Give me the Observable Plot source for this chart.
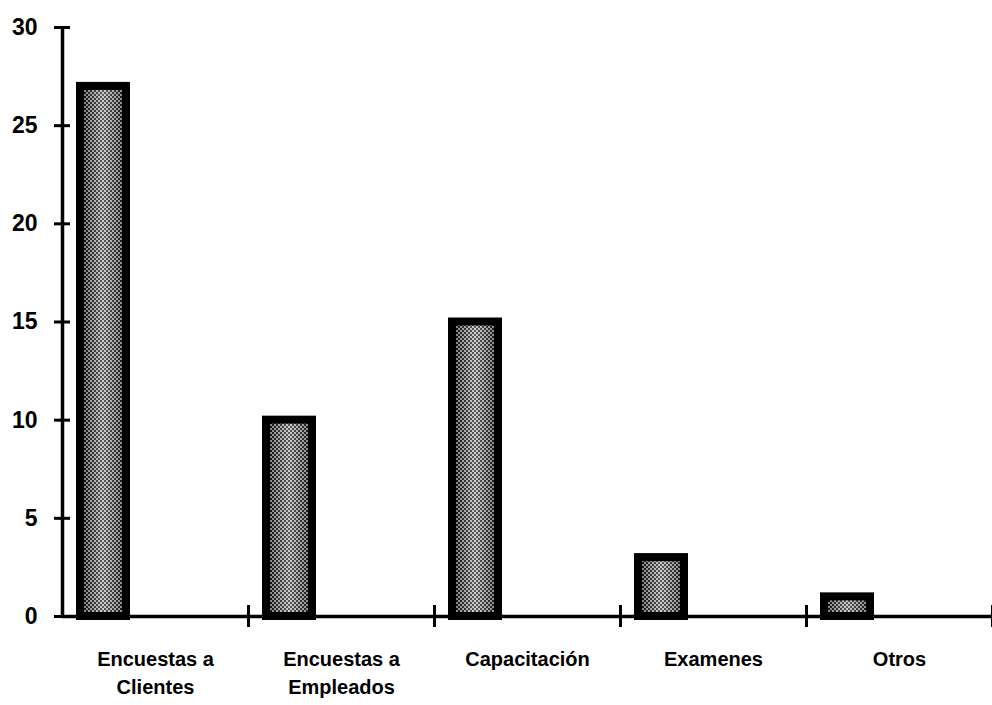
<!DOCTYPE html>
<html>
<head>
<meta charset="utf-8">
<script src="https://cdn.jsdelivr.net/npm/d3@7"></script>
<script src="https://cdn.jsdelivr.net/npm/@observablehq/plot@0.6"></script>
<style>
  html, body { margin: 0; padding: 0; background: #fff; }
  svg { display: block; }
</style>
</head>
<body>
<div id="chart"></div>
<script>
const categories = ["Encuestas a\nClientes", "Encuestas a\nEmpleados", "Capacitación", "Examenes", "Otros"];
const values = [27, 10, 15, 3, 1];
const yTicks = [0, 5, 10, 15, 20, 25, 30];

const data = categories.map((c, i) => ({cat: c, i, v: values[i]}));
const boundaries = d3.range(categories.length + 1);

const font = "'Liberation Sans', Arial, sans-serif";

const chart = Plot.plot({
  width: 992,
  height: 705,
  marginLeft: 62,
  marginRight: 0,
  marginTop: 27,
  marginBottom: 89,
  style: {fontFamily: font, background: "#fff", overflow: "visible"},
  x: {domain: [0, categories.length], axis: null},
  y: {domain: [0, 30], axis: null},
  marks: [
    // gradient underlay of bars
    Plot.rectY(data, {x1: "i", x2: d => d.i + 1, y: "v", insetLeft: 18, insetRight: 122, fill: "url(#barGrad)"}),
    // stipple overlay + black border
    Plot.rectY(data, {x1: "i", x2: d => d.i + 1, y: "v", insetLeft: 18, insetRight: 122, fill: "url(#stipple)", stroke: "#000", strokeWidth: 8}),
    // axes lines
    Plot.ruleX([0], {y1: 0, y2: 30, stroke: "#000", strokeWidth: 3.5}),
    Plot.ruleY([0], {x1: 0, x2: categories.length, stroke: "#000", strokeWidth: 3.5}),
    // y ticks crossing axis
    Plot.ruleY(yTicks, {y: d => d, x1: 0, x2: 0, insetLeft: -8, insetRight: -8, stroke: "#000", strokeWidth: 3}),
    // x boundary ticks crossing axis
    Plot.ruleX(boundaries.slice(1), {x: d => d, y1: 0, y2: 0, insetTop: -11, insetBottom: -11, stroke: "#000", strokeWidth: 3}),
    // y tick labels
    Plot.text(yTicks, {y: d => d, x: 0, text: d => String(d), dx: -25, textAnchor: "end", fontSize: 23, fontWeight: "bold", fill: "#000", letterSpacing: "-1.5px"}),
    // x labels
    Plot.text(data, {x: d => d.i + 0.5, y: 0, text: "cat", dy: 30, lineAnchor: "top", lineHeight: 1.4, fontSize: 20, fontWeight: "bold", fill: "#000", letterSpacing: "-1.2px"})
  ]
});

// defs for fills
const ns = "http://www.w3.org/2000/svg";
const defs = document.createElementNS(ns, "defs");
defs.innerHTML = `
  <linearGradient id="barGrad" x1="0" x2="1" y1="0" y2="0">
    <stop offset="0" stop-color="#000"/>
    <stop offset="0.2" stop-color="#444"/>
    <stop offset="0.5" stop-color="#a8a8a8"/>
    <stop offset="0.8" stop-color="#555"/>
    <stop offset="1" stop-color="#111"/>
  </linearGradient>
  <pattern id="stipple" width="4" height="4" patternUnits="userSpaceOnUse">
    <rect x="0" y="0" width="2" height="2" fill="#000" fill-opacity="0.45"/>
    <rect x="2" y="2" width="2" height="2" fill="#000" fill-opacity="0.45"/>
    <rect x="2" y="0" width="2" height="2" fill="#fff" fill-opacity="0.45"/>
    <rect x="0" y="2" width="2" height="2" fill="#fff" fill-opacity="0.45"/>
  </pattern>`;
chart.insertBefore(defs, chart.firstChild);

document.getElementById("chart").appendChild(chart);
</script>
</body>
</html>
